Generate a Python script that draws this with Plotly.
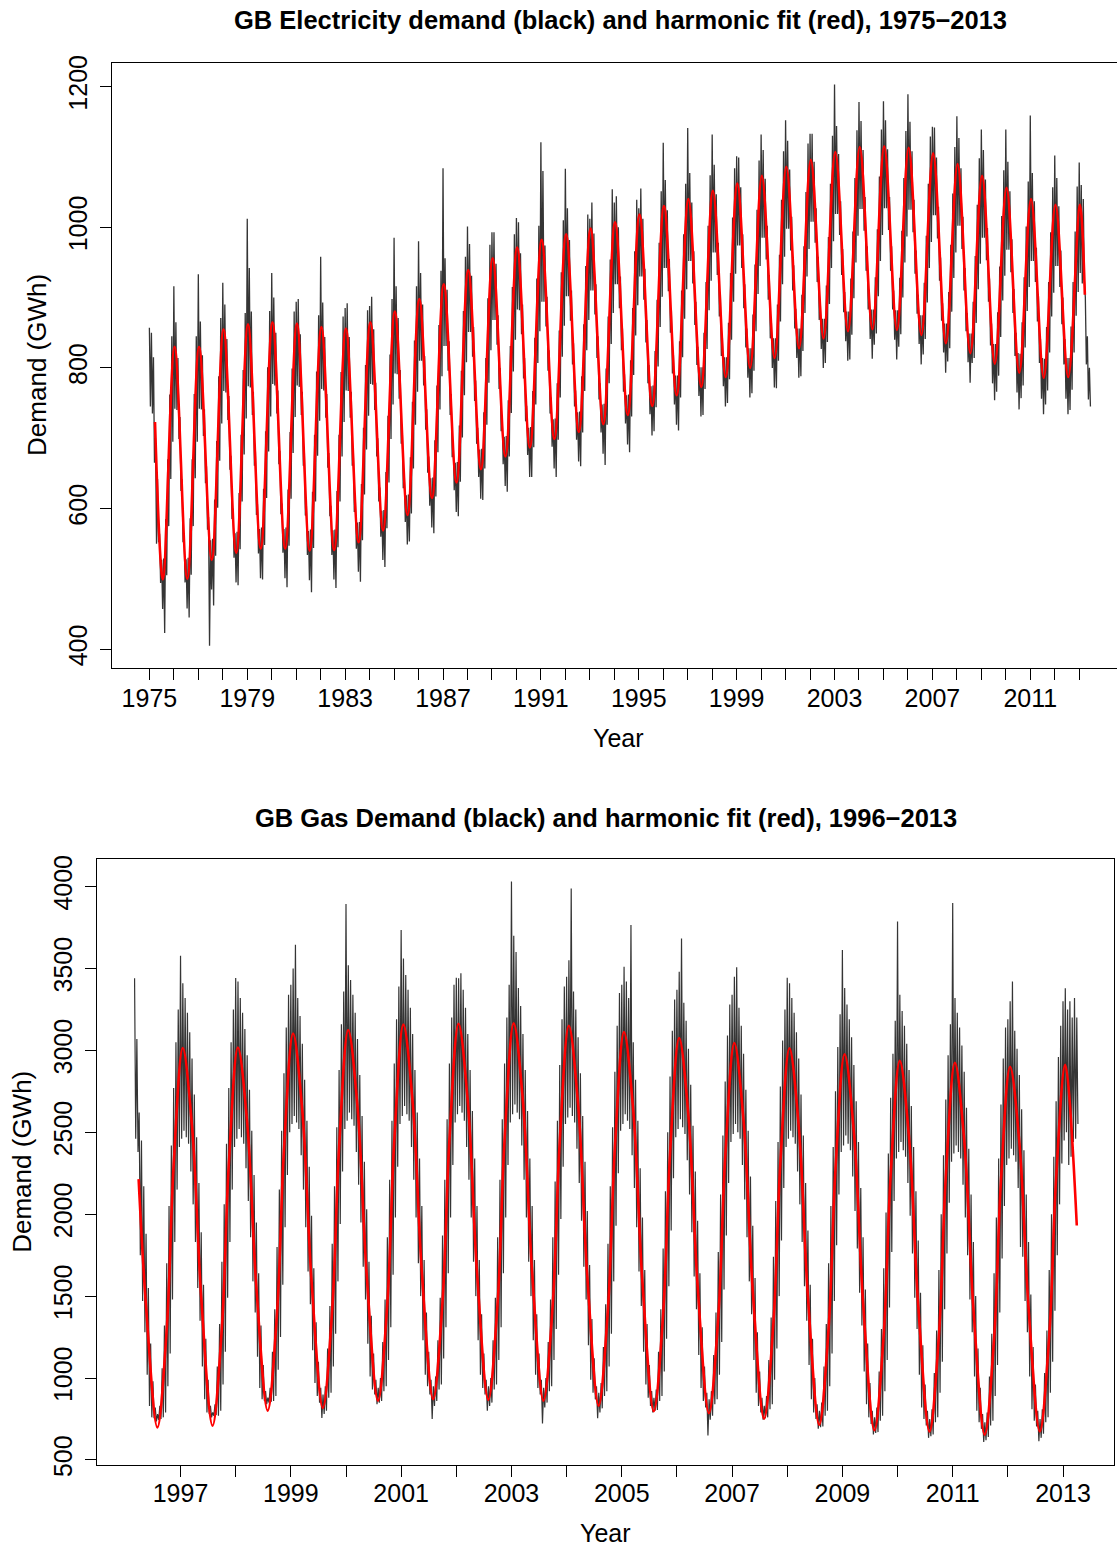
import plotly.graph_objects as go

# ------------------------------------------------------------------
# GB electricity demand, GWh/day
# ------------------------------------------------------------------
# Harmonic fit: summer minima (mid-July) and winter maxima (early January)
elec_fit_start = (1975.23, 723)
elec_fit_trough_years = list(range(1975, 2013))
elec_fit_trough = [499, 500, 527, 537, 543, 543, 540, 541, 552, 569,
                   591, 615, 637, 656, 674, 687, 699, 709, 720, 733,
                   746, 761, 773, 787, 800, 814, 828, 842, 852, 855,
                   854, 847, 835, 821, 806, 793, 786, 787]
elec_fit_peak = [830, 830, 855, 862, 865, 863, 858, 856, 865, 880,
                 898, 919, 939, 956, 971, 982, 990, 998, 1007, 1018,
                 1030, 1040, 1052, 1062, 1073, 1086, 1096, 1107, 1114, 1115,
                 1113, 1105, 1090, 1073, 1056, 1040, 1032, 1032]   # winters 1976..2013
elec_fit_end = (2013.23, 904)

# Observed daily demand: highest and lowest reading of each month, Jan 1975 onwards
elec_month_high = [
    857, 850, 815, 700, 642, 564, 527, 529, 585, 670, 762, 845,        # 1975
    916, 865, 814, 730, 642, 565, 528, 530, 586, 670, 763, 845,        # 1976
    933, 866, 818, 741, 660, 588, 555, 557, 613, 696, 788, 871,        # 1977
    921, 890, 841, 760, 675, 600, 565, 567, 622, 705, 797, 878,        # 1978
    1012, 942, 880, 766, 681, 606, 571, 573, 628, 710, 801, 881,       # 1979
    935, 900, 850, 768, 682, 607, 571, 573, 627, 709, 799, 880,        # 1980
    894, 898, 848, 766, 680, 604, 568, 570, 624, 705, 795, 875,        # 1981
    958, 893, 844, 763, 679, 604, 569, 570, 625, 705, 794, 873,        # 1982
    885, 892, 844, 766, 685, 613, 580, 581, 635, 715, 804, 882,        # 1983
    888, 901, 855, 779, 700, 630, 597, 598, 652, 732, 819, 898,        # 1984
    985, 916, 871, 797, 719, 651, 619, 620, 673, 752, 839, 916,        # 1985
    980, 935, 890, 817, 741, 674, 643, 644, 697, 775, 861, 938,        # 1986
    1084, 956, 911, 838, 763, 696, 665, 666, 718, 796, 881, 958,       # 1987
    1001, 976, 931, 858, 782, 715, 684, 685, 737, 814, 899, 975,       # 1988
    993, 993, 948, 875, 800, 733, 702, 703, 754, 831, 915, 990,        # 1989
    1013, 1007, 963, 890, 814, 746, 715, 716, 767, 843, 927, 1002,     # 1990
    1121, 1080, 974, 901, 825, 758, 727, 728, 778, 853, 936, 1010,     # 1991
    1083, 1027, 982, 910, 835, 768, 737, 738, 788, 862, 945, 1018,     # 1992
    1012, 1035, 991, 919, 845, 778, 748, 749, 799, 873, 954, 1054,     # 1993
    1035, 1044, 1000, 930, 856, 791, 761, 762, 811, 885, 966, 1039,    # 1994
    1027, 1055, 1012, 941, 868, 804, 774, 775, 824, 897, 978, 1051,    # 1995
    1120, 1067, 1024, 955, 882, 818, 789, 789, 838, 910, 990, 1062,    # 1996
    1141, 1077, 1035, 966, 894, 830, 801, 801, 850, 922, 1002, 1074,   # 1997
    1132, 1089, 1047, 978, 907, 844, 815, 815, 864, 935, 1014, 1084,   # 1998
    1101, 1099, 1057, 990, 919, 856, 828, 828, 876, 947, 1025, 1095,   # 1999
    1132, 1110, 1069, 1002, 932, 870, 842, 842, 890, 961, 1039, 1108,  # 2000
    1152, 1123, 1082, 1015, 946, 884, 856, 856, 904, 973, 1050, 1119,  # 2001
    1133, 1133, 1093, 1027, 958, 897, 870, 870, 917, 986, 1062, 1130,  # 2002
    1203, 1144, 1104, 1037, 969, 908, 880, 880, 927, 994, 1070, 1138,  # 2003
    1178, 1151, 1110, 1043, 973, 911, 883, 883, 929, 997, 1072, 1139,  # 2004
    1179, 1152, 1111, 1043, 973, 910, 882, 882, 928, 995, 1070, 1137,  # 2005
    1189, 1150, 1108, 1039, 967, 904, 875, 875, 921, 988, 1062, 1129,  # 2006
    1143, 1142, 1099, 1029, 957, 892, 863, 863, 908, 975, 1048, 1114,  # 2007
    1158, 1127, 1084, 1015, 942, 878, 849, 849, 894, 959, 1032, 1098,  # 2008
    1139, 1110, 1068, 999, 927, 863, 834, 834, 879, 944, 1016, 1081,   # 2009
    1139, 1093, 1051, 983, 912, 850, 821, 820, 865, 929, 1001, 1065,   # 2010
    1159, 1077, 1037, 971, 902, 841, 814, 813, 858, 922, 993, 1057,    # 2011
    1102, 1070, 1030, 967, 900, 841, 814, 814, 859, 922, 994, 1058,    # 2012
    1092, 1060, 1040, 900, 845, 800,                                   # 2013
]
elec_month_low = [
    745, 735, 665, 550, 552, 494, 457, 423, 505, 575, 642, 695,        # 1975
    742, 740, 699, 625, 552, 495, 458, 445, 506, 575, 643, 695,        # 1976
    742, 741, 703, 636, 570, 405, 485, 462, 533, 601, 668, 721,        # 1977
    767, 765, 726, 655, 585, 530, 495, 491, 542, 610, 677, 728,        # 1978
    774, 772, 733, 661, 591, 536, 501, 499, 548, 615, 681, 731,        # 1979
    777, 775, 735, 663, 592, 537, 501, 488, 547, 614, 679, 730,        # 1980
    775, 773, 733, 661, 590, 534, 498, 481, 544, 610, 675, 725,        # 1981
    770, 768, 729, 658, 589, 534, 499, 487, 545, 610, 674, 723,        # 1982
    768, 767, 729, 661, 595, 543, 510, 496, 555, 620, 684, 732,        # 1983
    777, 776, 740, 674, 610, 560, 527, 517, 572, 637, 699, 748,        # 1984
    792, 791, 756, 692, 629, 581, 549, 553, 593, 657, 719, 766,        # 1985
    810, 810, 775, 712, 651, 604, 573, 565, 617, 680, 741, 788,        # 1986
    831, 831, 796, 733, 673, 626, 595, 589, 638, 701, 761, 808,        # 1987
    851, 851, 816, 753, 692, 645, 614, 612, 657, 719, 779, 825,        # 1988
    868, 868, 833, 770, 710, 663, 632, 624, 674, 736, 795, 840,        # 1989
    883, 882, 848, 785, 724, 676, 645, 645, 687, 748, 807, 852,        # 1990
    894, 894, 859, 796, 735, 688, 657, 645, 698, 758, 816, 860,        # 1991
    902, 902, 867, 805, 745, 698, 667, 660, 708, 767, 825, 868,        # 1992
    910, 910, 876, 814, 755, 708, 678, 662, 719, 778, 834, 878,        # 1993
    919, 919, 885, 825, 766, 721, 691, 680, 731, 790, 846, 889,        # 1994
    930, 930, 897, 836, 778, 734, 704, 710, 744, 802, 858, 901,        # 1995
    942, 942, 909, 850, 792, 748, 719, 711, 758, 815, 870, 912,        # 1996
    952, 952, 920, 861, 804, 760, 731, 733, 770, 827, 882, 924,        # 1997
    964, 964, 932, 873, 817, 774, 745, 750, 784, 840, 894, 934,        # 1998
    974, 974, 942, 885, 829, 786, 758, 764, 796, 852, 905, 945,        # 1999
    985, 985, 954, 897, 842, 800, 772, 771, 810, 866, 919, 958,        # 2000
    998, 998, 967, 910, 856, 814, 786, 788, 824, 878, 930, 969,        # 2001
    1008, 1008, 978, 922, 868, 827, 800, 807, 837, 891, 942, 980,      # 2002
    1019, 1019, 989, 932, 879, 838, 810, 812, 847, 899, 950, 988,      # 2003
    1026, 1026, 995, 938, 883, 841, 813, 833, 849, 902, 952, 989,      # 2004
    1027, 1027, 996, 938, 883, 840, 812, 830, 848, 900, 950, 987,      # 2005
    1025, 1025, 993, 934, 877, 834, 805, 819, 841, 893, 942, 979,      # 2006
    1017, 1017, 984, 924, 867, 822, 793, 809, 828, 880, 928, 964,      # 2007
    1002, 1002, 969, 910, 852, 808, 779, 807, 814, 864, 912, 948,      # 2008
    985, 985, 953, 894, 832, 778, 754, 766, 789, 844, 896, 931,        # 2009
    968, 968, 936, 878, 817, 765, 741, 757, 775, 829, 881, 915,        # 2010
    952, 952, 922, 866, 807, 756, 734, 748, 768, 822, 873, 907,        # 2011
    945, 945, 915, 862, 805, 756, 734, 740, 769, 822, 874, 908,        # 2012
    935, 920, 925, 805, 755, 745,                                      # 2013
]
elec_first_month = 1975.0

elec_tick_years = list(range(1975, 2014))
elec_tick_labels = [str(y) if (y - 1975) % 4 == 0 else "" for y in elec_tick_years]
elec_y_ticks = [400, 600, 800, 1000, 1200]

# ------------------------------------------------------------------
# GB gas demand, GWh/day
# ------------------------------------------------------------------
gas_fit_start = [(1996.24, 2214), (1996.375, 1437)]
gas_fit_cycle_years = list(range(1996, 2013))
gas_fit_trough = [699, 709, 801, 817, 862, 871, 867, 862, 831, 797, 785, 752, 715, 681, 674, 654, 674]
gas_fit_rise_mid = [1301, 1309, 1400, 1417, 1459, 1467, 1464, 1457, 1424, 1389, 1373, 1340, 1303, 1267, 1259, 1238, 1256]
gas_fit_rise_late = [2296, 2302, 2389, 2409, 2446, 2452, 2453, 2441, 2404, 2369, 2344, 2312, 2275, 2237, 2227, 2204, 2218]
gas_fit_peak = [3014, 3017, 3103, 3124, 3157, 3162, 3165, 3150, 3111, 3075, 3045, 3013, 2976, 2936, 2924, 2900, 2912]
gas_fit_fall_early = [2530, 2552, 2623, 2649, 2677, 2680, 2681, 2663, 2625, 2594, 2563, 2530, 2494, 2461, 2447, 2433]
gas_fit_fall_mid = [1493, 1554, 1594, 1631, 1648, 1647, 1645, 1619, 1584, 1564, 1532, 1496, 1461, 1443, 1426, 1431]
gas_fit_end = (2013.25, 1931)

# Observed daily demand: highest and lowest reading of each half-month, from early March 1996
gas_half_month_high = [
    3440, 3070, 2620, 2450, 2170, 1880, 1550, 1210, 980, 820, 780, 830,
    1060, 1320, 1700, 2050, 2420, 2770, 3050, 3250,                                  # 1996
    3577, 3410, 3320, 3230, 3110, 2950, 2730, 2470, 2190, 1890, 1570, 1240,
    990, 830, 790, 840, 1070, 1330, 1710, 2060, 2430, 2770, 3050, 3250,              # 1997
    3441, 3420, 3320, 3230, 3130, 2970, 2760, 2510, 2240, 1950, 1640, 1320,
    1080, 920, 880, 940, 1160, 1420, 1800, 2150, 2510, 2860, 3140, 3340,             # 1998
    3400, 3500, 3644, 3320, 3210, 3040, 2820, 2570, 2290, 1990, 1670, 1340,
    1100, 940, 900, 950, 1180, 1440, 1820, 2170, 2530, 2880, 3160, 3360,             # 1999
    3894, 3520, 3430, 3340, 3230, 3070, 2850, 2600, 2320, 2030, 1710, 1380,
    1150, 990, 940, 1000, 1220, 1480, 1860, 2210, 2570, 2920, 3190, 3390,            # 2000
    3734, 3560, 3460, 3370, 3260, 3100, 2880, 2620, 2340, 2050, 1720, 1400,
    1160, 990, 950, 1010, 1230, 1490, 1870, 2210, 2580, 2920, 3200, 3400,            # 2001
    3443, 3440, 3470, 3370, 3260, 3100, 2880, 2630, 2340, 2050, 1720, 1390,
    1150, 990, 950, 1000, 1230, 1490, 1860, 2210, 2580, 2920, 3200, 3400,            # 2002
    4030, 3700, 3600, 3380, 3270, 3100, 2880, 2630, 2340, 2050, 1720, 1390,
    1150, 990, 940, 1000, 1220, 1480, 1860, 2200, 2570, 2910, 3190, 3390,            # 2003
    3450, 3550, 3988, 3360, 3250, 3080, 2860, 2600, 2320, 2020, 1690, 1360,
    1120, 950, 910, 970, 1190, 1450, 1820, 2170, 2530, 2870, 3150, 3350,             # 2004
    3400, 3510, 3420, 3320, 3765, 3050, 2820, 2570, 2280, 1980, 1660, 1330,
    1080, 920, 880, 930, 1160, 1420, 1790, 2140, 2500, 2840, 3120, 3310,             # 2005
    3370, 3480, 3683, 3290, 3180, 3010, 2790, 2540, 2260, 1960, 1640, 1310,
    1070, 910, 870, 920, 1140, 1400, 1770, 2120, 2480, 2810, 3090, 3280,             # 2006
    3340, 3450, 3508, 3260, 3150, 2980, 2760, 2510, 2230, 1930, 1610, 1280,
    1040, 880, 830, 890, 1110, 1370, 1740, 2080, 2440, 2780, 3060, 3250,             # 2007
    3443, 3410, 3320, 3230, 3110, 2950, 2730, 2480, 2190, 1900, 1570, 1240,
    1000, 840, 800, 850, 1070, 1330, 1700, 2050, 2410, 2750, 3020, 3220,             # 2008
    3613, 3380, 3280, 3190, 3080, 2910, 2690, 2440, 2160, 1860, 1540, 1210,
    970, 800, 760, 820, 1040, 1300, 1670, 2010, 2370, 2710, 2980, 3180,              # 2009
    3787, 3340, 3240, 3150, 3040, 2880, 2660, 2410, 2140, 1840, 1520, 1200,
    960, 800, 750, 810, 1030, 1290, 1660, 2000, 2360, 2700, 2970, 3160,              # 2010
    3900, 3320, 3230, 3140, 3030, 2870, 2650, 2400, 2120, 1830, 1500, 1180,
    940, 780, 730, 790, 1010, 1270, 1640, 1980, 2340, 2670, 2950, 3140,              # 2011
    3190, 3300, 3420, 3120, 3010, 2850, 2640, 2390, 2120, 1830, 1510, 1190,
    960, 800, 750, 810, 1030, 1290, 1660, 2000, 2350, 2690, 2960, 3150,              # 2012
    3300, 3379, 3250, 3300, 3200, 3320, 3200,                                        # 2013
]
gas_half_month_low = [
    2460, 2380, 1750, 1470, 1280, 1020, 830, 760, 755, 735, 745, 750,
    760, 790, 950, 1150, 1480, 1830, 2150, 2410,                                     # 1996
    2460, 2510, 2470, 2430, 2260, 2060, 1830, 1550, 1350, 1070, 870, 790,
    780, 760, 770, 775, 770, 800, 960, 1160, 1490, 1830, 2150, 2410,                 # 1997
    2460, 2520, 2470, 2430, 2280, 2080, 1860, 1590, 1400, 1130, 940, 870,
    860, 840, 850, 855, 860, 890, 1050, 1250, 1570, 1920, 2240, 2500,                # 1998
    2550, 2600, 2560, 2520, 2360, 2150, 1920, 1650, 1450, 1170, 970, 890,
    850, 756, 780, 800, 880, 910, 1070, 1270, 1590, 1940, 2260, 2520,                # 1999
    2570, 2620, 2580, 2540, 2380, 2180, 1950, 1680, 1480, 1210, 1010, 930,
    900, 840, 850, 860, 920, 950, 1110, 1310, 1630, 1980, 2290, 2550,                # 2000
    2600, 2660, 2610, 2570, 2410, 2210, 1980, 1700, 1500, 1230, 1020, 950,
    900, 750, 830, 860, 930, 960, 1120, 1310, 1640, 1980, 2300, 2560,                # 2001
    2610, 2660, 2620, 2570, 2410, 2210, 1980, 1710, 1500, 1230, 1020, 940,
    900, 800, 830, 850, 930, 960, 1110, 1310, 1640, 1980, 2300, 2560,                # 2002
    2610, 2670, 2620, 2580, 2420, 2210, 1980, 1710, 1500, 1230, 1020, 940,
    900, 722, 820, 850, 920, 950, 1110, 1300, 1630, 1970, 2290, 2550,                # 2003
    2590, 2650, 2600, 2560, 2400, 2190, 1960, 1680, 1480, 1200, 990, 910,
    870, 754, 790, 815, 890, 920, 1070, 1270, 1590, 1930, 2250, 2510,                # 2004
    2550, 2610, 2570, 2520, 2360, 2160, 1920, 1650, 1440, 1160, 960, 880,
    830, 790, 800, 805, 860, 890, 1040, 1240, 1560, 1900, 2220, 2470,                # 2005
    2520, 2580, 2530, 2490, 2330, 2120, 1890, 1620, 1420, 1140, 940, 860,
    820, 650, 745, 770, 840, 870, 1020, 1220, 1540, 1870, 2190, 2440,                # 2006
    2490, 2550, 2500, 2460, 2300, 2090, 1860, 1590, 1390, 1110, 910, 830,
    790, 745, 755, 760, 810, 840, 990, 1180, 1500, 1840, 2160, 2410,                 # 2007
    2460, 2510, 2470, 2430, 2260, 2060, 1830, 1560, 1350, 1080, 870, 790,
    750, 690, 700, 705, 770, 800, 950, 1150, 1470, 1810, 2120, 2380,                 # 2008
    2420, 2480, 2430, 2390, 2230, 2020, 1790, 1520, 1320, 1040, 840, 760,
    720, 655, 665, 670, 740, 770, 920, 1110, 1430, 1770, 2080, 2340,                 # 2009
    2380, 2440, 2390, 2350, 2190, 1990, 1760, 1490, 1300, 1020, 820, 750,
    710, 635, 645, 655, 730, 760, 910, 1100, 1420, 1760, 2070, 2320,                 # 2010
    2370, 2420, 2380, 2340, 2180, 1980, 1750, 1480, 1280, 1010, 800, 730,
    690, 610, 620, 640, 710, 740, 890, 1080, 1400, 1730, 2050, 2300,                 # 2011
    2340, 2400, 2360, 2320, 2160, 1800, 1740, 1470, 1280, 1010, 810, 740,
    705, 615, 635, 660, 730, 760, 910, 1100, 1410, 1750, 2060, 2310,                 # 2012
    2450, 2500, 2300, 2350, 2440, 2460, 2550,                                        # 2013
]
gas_first_half_month = 1996 + 4 / 24

gas_tick_years = list(range(1997, 2014))
gas_tick_labels = [str(y) if (y - 1997) % 2 == 0 else "" for y in gas_tick_years]
gas_y_ticks = [500, 1000, 1500, 2000, 2500, 3000, 3500, 4000]

# ------------------------------------------------------------------
# Assemble series
# ------------------------------------------------------------------


def high_low_trace(start, step, highs, lows):
    """Daily series drawn as a high/low stroke for every period (high first, low half a period later)."""
    xs, ys = [], []
    for k, (hi, lo) in enumerate(zip(highs, lows)):
        t = start + k * step
        xs += [t, t + step / 2]
        ys += [hi, lo]
    return xs, ys


elec_x, elec_y = high_low_trace(elec_first_month, 1 / 12, elec_month_high, elec_month_low)
gas_x, gas_y = high_low_trace(gas_first_half_month, 1 / 24, gas_half_month_high, gas_half_month_low)

elec_fit_t = [elec_fit_start[0]]
elec_fit_v = [elec_fit_start[1]]
for yr, lo, hi in zip(elec_fit_trough_years, elec_fit_trough, elec_fit_peak):
    elec_fit_t += [yr + 0.55, yr + 1.03]
    elec_fit_v += [lo, hi]
elec_fit_t.append(elec_fit_end[0])
elec_fit_v.append(elec_fit_end[1])

gas_fit_t = [p[0] for p in gas_fit_start]
gas_fit_v = [p[1] for p in gas_fit_start]
for i, yr in enumerate(gas_fit_cycle_years):
    gas_fit_t += [yr + 0.58, yr + 0.75, yr + 0.875, yr + 1.04]
    gas_fit_v += [gas_fit_trough[i], gas_fit_rise_mid[i], gas_fit_rise_late[i], gas_fit_peak[i]]
    if i < len(gas_fit_fall_early):
        gas_fit_t += [yr + 1.21, yr + 1.375]
        gas_fit_v += [gas_fit_fall_early[i], gas_fit_fall_mid[i]]
gas_fit_t.append(gas_fit_end[0])
gas_fit_v.append(gas_fit_end[1])

# ------------------------------------------------------------------
# Figure
# ------------------------------------------------------------------
W = 1117
H = 1558
Y_SCALE, Y_SHIFT = 0.988, 7.0
FONT = "Liberation Sans, Arial, Helvetica, sans-serif"
FIT_RED = "#ff0000"
DATA_GREY = "#353535"

fig = go.Figure()
fig.add_trace(go.Scatter(x=elec_x, y=elec_y, mode="lines",
                         line=dict(color=DATA_GREY, width=1.3),
                         xaxis="x", yaxis="y", hoverinfo="skip", showlegend=False))
fig.add_trace(go.Scatter(x=elec_fit_t, y=elec_fit_v, mode="lines",
                         line=dict(color=FIT_RED, width=2.6, shape="spline", smoothing=1.0),
                         xaxis="x", yaxis="y", hoverinfo="skip", showlegend=False))
fig.add_trace(go.Scatter(x=gas_x, y=gas_y, mode="lines",
                         line=dict(color=DATA_GREY, width=1.2),
                         xaxis="x2", yaxis="y2", hoverinfo="skip", showlegend=False))
fig.add_trace(go.Scatter(x=gas_fit_t, y=gas_fit_v, mode="lines",
                         line=dict(color=FIT_RED, width=2.6, shape="spline", smoothing=1.0),
                         xaxis="x2", yaxis="y2", hoverinfo="skip", showlegend=False))

axis_style = dict(showgrid=False, zeroline=False, showline=True, linecolor="black",
                  linewidth=1, ticks="outside", ticklen=11, tickwidth=1,
                  tickcolor="black", tickfont=dict(family=FONT, size=25, color="black"))


def px_x(px):
    return px / W


def px_y(py):
    return 1 - ((py - Y_SHIFT) / Y_SCALE) / H


fig.update_layout(
    width=W, height=H,
    margin=dict(l=0, r=0, t=0, b=0),
    paper_bgcolor="white", plot_bgcolor="white",
    hovermode=False, showlegend=False,
    xaxis=dict(axis_style, domain=[px_x(111.7), 1.0], range=[1973.46, 2014.544],
               anchor="y", mirror=True, tickmode="array",
               tickvals=elec_tick_years, ticktext=elec_tick_labels,
               ticklabelstandoff=-3),
    yaxis=dict(axis_style, domain=[px_y(668.3), px_y(62.7)], range=[373, 1234],
               anchor="x", tickmode="array", tickvals=elec_y_ticks,
               ticktext=[str(v) for v in elec_y_ticks], tickangle=-90,
               ticklabelstandoff=3),
    xaxis2=dict(axis_style, domain=[px_x(96.7), px_x(1114.3)], range=[1995.48, 2013.93],
                anchor="y2", mirror=True, tickmode="array",
                tickvals=gas_tick_years, ticktext=gas_tick_labels,
                ticklabelstandoff=-5),
    yaxis2=dict(axis_style, domain=[px_y(1465), px_y(859)], range=[471, 4169],
                anchor="x2", mirror=True, tickmode="array", tickvals=gas_y_ticks,
                ticktext=[str(v) for v in gas_y_ticks], tickangle=-90,
                ticklabelstandoff=3),
)

text_annotations = [
    dict(text="<b>GB Electricity demand (black) and harmonic fit (red), 1975\u22122013</b>",
         x=px_x(620), y=px_y(20), size=25.5),
    dict(text="<b>GB Gas Demand (black) and harmonic fit (red), 1996\u22122013</b>",
         x=px_x(605.5), y=px_y(818), size=25.5),
    dict(text="Year", x=px_x(618), y=px_y(738), size=25),
    dict(text="Year", x=px_x(605.5), y=px_y(1533), size=25),
    dict(text="Demand (GWh)", x=px_x(37), y=px_y(365), size=26, angle=-90),
    dict(text="Demand (GWh)", x=px_x(22), y=px_y(1162), size=26, angle=-90),
]
for a in text_annotations:
    fig.add_annotation(text=a["text"], x=a["x"], y=a["y"], xref="paper", yref="paper",
                       xanchor="center", yanchor="middle", showarrow=False,
                       textangle=a.get("angle", 0),
                       font=dict(family=FONT, size=a["size"], color="black"))

fig.write_html("out.html", config={"displayModeBar": False})
